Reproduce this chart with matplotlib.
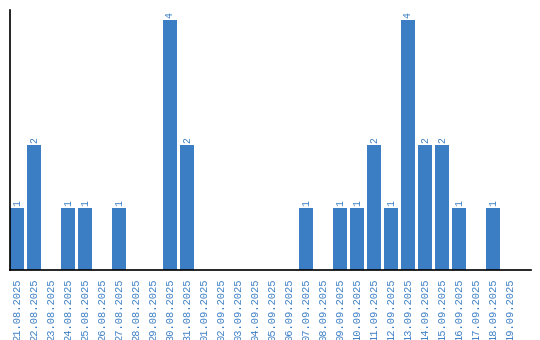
import matplotlib
matplotlib.use("Agg")
import matplotlib.pyplot as plt

dates = ["21.08.2025", "22.08.2025", "23.08.2025", "24.08.2025", "25.08.2025",
         "26.08.2025", "27.08.2025", "28.08.2025", "29.08.2025", "30.08.2025",
         "31.08.2025", "01.09.2025", "02.09.2025", "03.09.2025", "04.09.2025",
         "05.09.2025", "06.09.2025", "07.09.2025", "08.09.2025", "09.09.2025",
         "10.09.2025", "11.09.2025", "12.09.2025", "13.09.2025", "14.09.2025",
         "15.09.2025", "16.09.2025", "17.09.2025", "18.09.2025", "19.09.2025"]
values = [1, 2, 0, 1, 1, 0, 1, 0, 0, 4,
          2, 0, 0, 0, 0, 0, 0, 1, 0, 1,
          1, 2, 1, 4, 2, 2, 1, 0, 1, 0]

blue = "#3b7ec4"
fig = plt.figure(figsize=(5.4, 3.4), dpi=100)
ax = fig.add_axes([10/540, 70/340, 521/540, 260/340])
x = list(range(len(dates)))
bars = ax.bar(x, values, width=0.8, color=blue)
ax.set_xlim(-0.41, 30.24)
ax.set_ylim(0, 4.16)
for xi, v in zip(x, values):
    if v > 0:
        ax.text(xi, v + 0.03, str(v), rotation=90, ha="center", va="bottom",
                color=blue, fontsize=7, family="Liberation Mono")
ax.set_xticks(x)
ax.set_xticklabels(dates, rotation=90, color=blue, fontsize=7.5, family="Liberation Mono")
ax.tick_params(axis="x", length=0, pad=6)
ax.set_yticks([])
for s in ["top", "right"]:
    ax.spines[s].set_visible(False)
ax.spines["left"].set_linewidth(1.2)
ax.spines["bottom"].set_linewidth(1.2)
fig.savefig("out.png", dpi=100)
